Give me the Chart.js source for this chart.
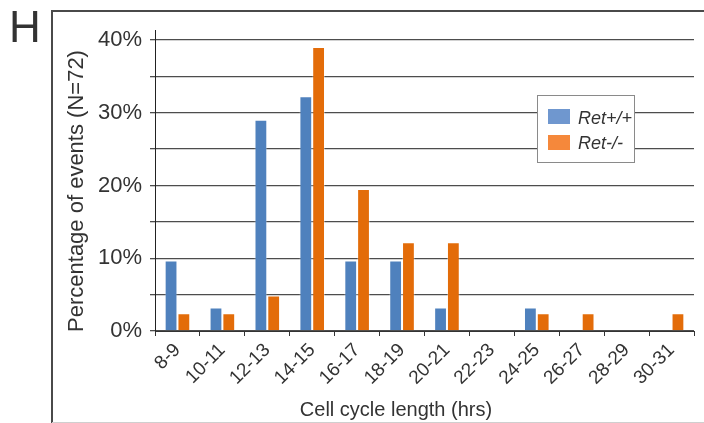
<!DOCTYPE html>
<html lang="en">
<head>
<meta charset="UTF-8">
<title>Cell cycle length</title>
<script src="https://cdn.jsdelivr.net/npm/chart.js"></script>
<style>
  body { margin: 0; background: #fff; }
  canvas { display: block; }
</style>
</head>
<body>
<canvas id="cycleChart" width="704" height="423"></canvas>
<script>
// data (percent of events)
const categories = ['8-9', '10-11', '12-13', '14-15', '16-17', '18-19', '20-21', '22-23', '24-25', '26-27', '28-29', '30-31'];
const retWT = [9.68, 3.23, 29.03, 32.26, 9.68, 9.68, 3.23, 0, 3.23, 0, 0, 0];
const retKO = [2.44, 2.44, 4.88, 39.02, 19.51, 12.20, 12.20, 0, 2.44, 2.44, 0, 2.44];
const seriesNames = ['Ret+/+', 'Ret-/-'];
const gridSteps = [0, 5, 10, 15, 20, 25, 30, 35, 40];
const yTickLabels = [0, 10, 20, 30, 40];

const FONT = '"Liberation Sans", Arial, sans-serif';
const TEXT = '#333';

// frame, panel letter, axis titles and legend box
const decor = {
    id: 'decor',
    afterDraw(chart) {
        const ctx = chart.ctx;
        ctx.save();
        // panel frame
        ctx.strokeStyle = '#4a4a4a';
        ctx.lineWidth = 2;
        ctx.beginPath();
        ctx.moveTo(52, 423);
        ctx.lineTo(52, 11);
        ctx.lineTo(704, 11);
        ctx.stroke();
        ctx.strokeStyle = '#cfcfcf';
        ctx.lineWidth = 1;
        ctx.beginPath();
        ctx.moveTo(52, 422.5);
        ctx.lineTo(704, 422.5);
        ctx.stroke();

        ctx.fillStyle = TEXT;
        ctx.font = '44px ' + FONT;
        ctx.textAlign = 'left';
        ctx.textBaseline = 'alphabetic';
        ctx.fillText('H', 9, 42);

        // x title
        ctx.font = '20px ' + FONT;
        ctx.textAlign = 'center';
        ctx.fillText('Cell cycle length (hrs)', 396, 416);

        // y title
        ctx.save();
        ctx.translate(83, 191);
        ctx.rotate(-Math.PI / 2);
        ctx.font = '22px ' + FONT;
        ctx.textAlign = 'center';
        ctx.fillText('Percentage of events (N=72)', 0, 0);
        ctx.restore();

        // legend
        const swatch = ['#6f97cf', '#f5883b'];
        ctx.fillStyle = '#fff';
        ctx.fillRect(537, 95, 98, 67);
        ctx.strokeStyle = '#8a8a8a';
        ctx.strokeRect(537.5, 95.5, 97, 67);
        ctx.font = 'italic 18px ' + FONT;
        ctx.textAlign = 'left';
        chart.data.datasets.forEach((ds, i) => {
            ctx.fillStyle = swatch[i];
            ctx.fillRect(548, 109 + i * 26, 22, 15);
            ctx.fillStyle = TEXT;
            ctx.fillText(ds.label, 578, 124 + i * 25);
        });
        ctx.restore();
    }
};

new Chart(document.getElementById('cycleChart'), {
    type: 'bar',
    data: {
        labels: categories,
        datasets: [{
            label: seriesNames[0],
            data: retWT,
            backgroundColor: '#4f81bd',
            borderColor: 'rgba(255,255,255,0.35)',
            borderWidth: 1
        }, {
            label: seriesNames[1],
            data: retKO,
            backgroundColor: '#e36c09',
            borderColor: 'rgba(255,255,255,0.35)',
            borderWidth: 1
        }]
    },
    options: {
        responsive: false,
        animation: false,
        layout: { padding: { top: 30, right: 10, left: 0, bottom: 0 } },
        plugins: {
            legend: { display: false },
            tooltip: { enabled: false }
        },
        datasets: {
            bar: { categoryPercentage: 0.57, barPercentage: 1 }
        },
        scales: {
            x: {
                afterFit: (s) => { s.height = 92; },
                grid: { drawOnChartArea: false, color: '#333', tickLength: 5 },
                border: { color: '#333' },
                ticks: {
                    color: TEXT,
                    font: { family: FONT, size: 19 },
                    minRotation: 45,
                    maxRotation: 45,
                    padding: 3,
                    autoSkip: false
                }
            },
            y: {
                min: 0,
                max: 41.37,
                afterFit: (s) => { s.width = 155; },
                afterBuildTicks: (s) => { s.ticks = gridSteps.map(v => ({ value: v })); },
                grid: { color: '#4d4d4d', lineWidth: 1.3, tickLength: 5 },
                border: { color: '#222' },
                ticks: {
                    color: TEXT,
                    padding: 8,
                    font: { family: FONT, size: 22 },
                    callback: (v) => yTickLabels.includes(v) ? v + '%' : ''
                }
            }
        }
    },
    plugins: [decor]
});
</script>
</body>
</html>
